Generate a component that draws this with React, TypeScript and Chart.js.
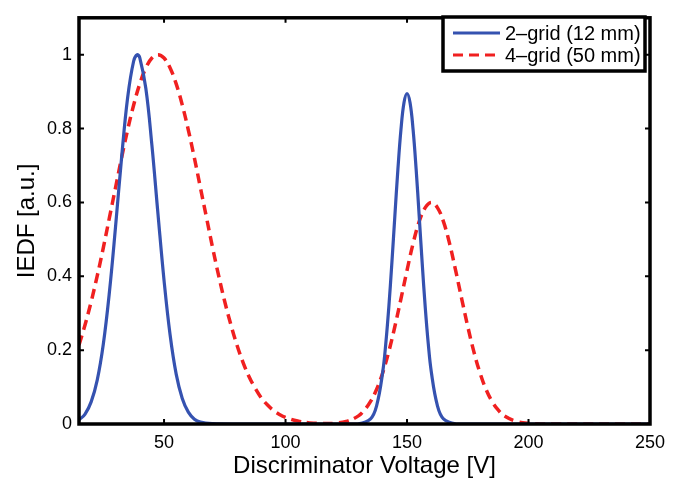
import React, { useEffect, useRef } from "react";
import { Chart, registerables } from "chart.js";

Chart.register(...registerables);

// 2-grid (12 mm) IEDF samples
const blueX = [15, 17.5, 20, 22.5, 25, 27.5, 30, 32.5, 35, 37.5, 39, 40, 42.5, 45, 47.5, 50, 52.5, 55, 57.5, 60, 62.5, 65, 70, 80, 100, 120, 130, 135, 137.5, 140, 141.25, 142.5, 143.75, 145, 146.25, 147.5, 148.75, 150, 151.25, 152.5, 153.75, 155, 156.25, 157.5, 158.75, 160, 162.5, 165, 170, 180, 200, 250];
const blueY = [0.011, 0.027, 0.06, 0.119, 0.216, 0.356, 0.531, 0.719, 0.883, 0.983, 1.0, 0.992, 0.909, 0.755, 0.569, 0.389, 0.241, 0.135, 0.069, 0.032, 0.013, 0.005, 0.001, 0, 0, 0, 0.0005, 0.014, 0.05, 0.141, 0.217, 0.316, 0.435, 0.564, 0.69, 0.797, 0.87, 0.895, 0.87, 0.797, 0.69, 0.564, 0.435, 0.316, 0.217, 0.141, 0.05, 0.014, 0.0005, 0, 0, 0];

// 4-grid (50 mm) IEDF samples
const redX = [15, 17.5, 20, 22.5, 25, 27.5, 30, 32.5, 35, 37.5, 40, 42.5, 45, 47.5, 50, 52.5, 55, 57.5, 60, 62.5, 65, 67.5, 70, 72.5, 75, 77.5, 80, 82.5, 85, 87.5, 90, 92.5, 95, 97.5, 100, 105, 110, 115, 120, 125, 130, 132.5, 135, 137.5, 140, 142.5, 145, 147.5, 150, 152.5, 155, 157.5, 160, 162.5, 165, 167.5, 170, 172.5, 175, 177.5, 180, 182.5, 185, 187.5, 190, 195, 200, 210, 250];
const redY = [0.214, 0.269, 0.331, 0.401, 0.477, 0.558, 0.639, 0.72, 0.796, 0.864, 0.921, 0.964, 0.991, 1.0, 0.991, 0.964, 0.921, 0.864, 0.796, 0.72, 0.639, 0.558, 0.477, 0.401, 0.331, 0.269, 0.214, 0.167, 0.128, 0.097, 0.071, 0.052, 0.037, 0.026, 0.018, 0.008, 0.003, 0.0015, 0.002, 0.007, 0.022, 0.038, 0.061, 0.094, 0.139, 0.196, 0.264, 0.339, 0.416, 0.489, 0.548, 0.586, 0.6, 0.586, 0.548, 0.489, 0.416, 0.339, 0.264, 0.196, 0.139, 0.094, 0.061, 0.038, 0.022, 0.007, 0.002, 0, 0];

const seriesLabels = ["2\u2013grid (12 mm)", "4\u2013grid (50 mm)"];
const xTickValues = [50, 100, 150, 200, 250];
const yTickValues = [0, 0.2, 0.4, 0.6, 0.8, 1];
const yTickLabels = ["0", "0.2", "0.4", "0.6", "0.8", "1"];

const BLUE = "#3552b0";
const RED = "#f02020";
const FONT = "'Liberation Sans', Arial, Helvetica, sans-serif";

const framePlugin = {
  id: "frame",
  afterDraw(chart: any) {
    const { ctx, chartArea } = chart;
    const { left, right, top, bottom } = chartArea;
    const xs = chart.scales.x;
    const ys = chart.scales.y;
    ctx.save();
    ctx.strokeStyle = "#000";
    // inward ticks
    ctx.lineWidth = 2;
    const tl = 5;
    xTickValues.forEach((v) => {
      const px = xs.getPixelForValue(v);
      ctx.beginPath();
      ctx.moveTo(px, bottom);
      ctx.lineTo(px, bottom - tl);
      ctx.moveTo(px, top);
      ctx.lineTo(px, top + tl);
      ctx.stroke();
    });
    yTickValues.forEach((v) => {
      const py = ys.getPixelForValue(v);
      ctx.beginPath();
      ctx.moveTo(left, py);
      ctx.lineTo(left + tl, py);
      ctx.moveTo(right, py);
      ctx.lineTo(right - tl, py);
      ctx.stroke();
    });
    // frame
    ctx.lineWidth = 3.5;
    ctx.strokeRect(left, top, right - left, bottom - top);

    // legend
    const lx = 443, ly = 17, lw = 202, lh = 54;
    ctx.fillStyle = "#fff";
    ctx.fillRect(lx, ly, lw, lh);
    ctx.lineWidth = 3.5;
    ctx.strokeRect(lx, ly, lw, lh);
    const ds = chart.data.datasets;
    const rows = [33, 55];
    ds.forEach((d: any, i: number) => {
      const y = rows[i];
      ctx.beginPath();
      ctx.strokeStyle = d.borderColor;
      ctx.lineWidth = 3;
      ctx.setLineDash(d.borderDash || []);
      ctx.moveTo(453, y);
      ctx.lineTo(500, y);
      ctx.stroke();
      ctx.setLineDash([]);
      ctx.fillStyle = "#000";
      ctx.font = `20px ${FONT}`;
      ctx.textBaseline = "middle";
      ctx.textAlign = "left";
      ctx.fillText(d.label, 505, y + 1);
    });
    ctx.restore();
  },
};

export default function App() {
  const ref = useRef<HTMLCanvasElement>(null);
  useEffect(() => {
    document.body.style.margin = "0";
    const chart = new Chart(ref.current!, {
      type: "line",
      data: {
        datasets: [
          {
            label: seriesLabels[0],
            data: blueX.map((x, i) => ({ x, y: blueY[i] })),
            borderColor: BLUE,
            borderWidth: 3.2,
            pointRadius: 0,
            tension: 0.4,
            fill: false,
          },
          {
            label: seriesLabels[1],
            data: redX.map((x, i) => ({ x, y: redY[i] })),
            borderColor: RED,
            borderWidth: 3.5,
            borderDash: [10, 6],
            pointRadius: 0,
            tension: 0.4,
            fill: false,
          },
        ],
      },
      options: {
        animation: false,
        responsive: false,
        maintainAspectRatio: false,
        layout: { padding: { top: 10, right: 35, left: 0, bottom: 0 } },
        plugins: { legend: { display: false }, tooltip: { enabled: false } },
        scales: {
          x: {
            type: "linear",
            min: 15,
            max: 250,
            grid: { display: false, drawTicks: false },
            border: { display: false },
            afterBuildTicks: (s: any) => {
              s.ticks = xTickValues.map((v) => ({ value: v }));
            },
            afterFit: (s: any) => {
              s.height = 57;
            },
            ticks: {
              padding: 8,
              color: "#000",
              font: { family: FONT, size: 18 },
              maxRotation: 0,
              callback: (v: any) => String(v),
            },
            title: {
              display: true,
              text: "Discriminator Voltage [V]",
              color: "#000",
              font: { family: FONT, size: 24 },
              padding: { top: 3, bottom: 0 },
            },
          },
          y: {
            type: "linear",
            min: 0,
            max: 1.1,
            grid: { display: false, drawTicks: false },
            border: { display: false },
            afterBuildTicks: (s: any) => {
              s.ticks = yTickValues.map((v) => ({ value: v }));
            },
            afterFit: (s: any) => {
              s.width = 79;
            },
            ticks: {
              padding: 7,
              color: "#000",
              font: { family: FONT, size: 18 },
              callback: (v: any) => {
                const i = yTickValues.indexOf(v);
                return i >= 0 ? yTickLabels[i] : "";
              },
            },
            title: {
              display: true,
              text: "IEDF [a.u.]",
              color: "#000",
              font: { family: FONT, size: 24 },
              padding: { top: 13, bottom: 0 },
            },
          },
        },
      },
      plugins: [framePlugin],
    });
    return () => chart.destroy();
  }, []);
  return (
    <div style={{ position: "absolute", left: 0, top: 0, width: 685, height: 481, background: "#fff" }}>
      <canvas ref={ref} width={685} height={481} style={{ width: 685, height: 481, display: "block" }} />
    </div>
  );
}
